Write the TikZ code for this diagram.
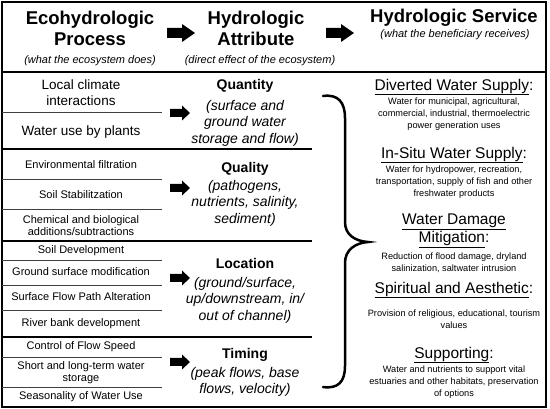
\documentclass[tikz,border=0pt]{standalone}
\usepackage{fontspec}
\setmainfont{Liberation Sans}
\begin{document}
\begin{tikzpicture}[x=1pt,y=-1pt]
\tikzset{
 hdr/.style={font=\fontsize{18.5}{21}\selectfont\bfseries, align=center, inner sep=0},
 hsub/.style={font=\fontsize{11}{13}\selectfont\itshape, inner sep=0},
 lbig/.style={font=\fontsize{13.5}{16}\selectfont, align=center, inner sep=0},
 lsmall/.style={font=\fontsize{11}{12}\selectfont, align=center, inner sep=0},
 attr/.style={font=\fontsize{14}{16}\selectfont\bfseries, inner sep=0},
 attrsub/.style={font=\fontsize{14}{16.5}\selectfont\itshape, align=center, inner sep=0},
 svc/.style={font=\fontsize{15.5}{18}\selectfont, align=center, inner sep=0},
 svcsub/.style={font=\fontsize{9.2}{11.8}\selectfont, align=center, inner sep=0},
 frameline/.style={line width=2.5pt},
 grpline/.style={line width=2pt},
 rowline/.style={line width=0.9pt, black!75},
 bigarrow/.pic={\fill (0,-5) -- (15,-5) -- (15,-9) -- (28,0) -- (15,9) -- (15,5) -- (0,5) -- cycle;},
 smallarrow/.pic={\fill (0,-4) -- (12,-4) -- (12,-7.5) -- (20,0) -- (12,7.5) -- (12,4) -- (0,4) -- cycle;}
}
\useasboundingbox (0,0) rectangle (550,409);
% frame
\draw[frameline] (2,2) rectangle (546,407);
\draw[frameline] (2,72) -- (546,72);
% header
\node[hdr] (h1) at (90,28.5) {Ecohydrologic\\Process};
\node[hsub] (s1) at (90,61) {(what the ecosystem does)};
\node[hdr] (h2) at (256,28.5) {Hydrologic\\Attribute};
\node[hsub] (s2) at (260,61) {(direct effect of the ecosystem)};
\node[hdr] (h3) at (454,18) {Hydrologic Service};
\node[hsub] (s3) at (455,35) {(what the beneficiary receives)};
\pic at (167,33) {bigarrow};
\pic at (326,33) {bigarrow};
% group lines
\draw[grpline] (2,149) -- (312,149);
\draw[grpline] (2,241) -- (312,241);
\draw[grpline] (2,337) -- (312,337);
% row lines
\foreach \yy in {112,179,209,260,285,310,357,387}
  \draw[rowline] (2,\yy) -- (162,\yy);
% left column
\node[lbig] (p1) at (81,93) {Local climate\\interactions};
\node[lbig] (p2) at (81,132) {Water use by plants};
\node[lsmall] (p3) at (81,165) {Environmental filtration};
\node[lsmall] (p4) at (81,195) {Soil Stabilitzation};
\node[lsmall] (p5) at (81,225.5) {Chemical and biological\\additions/subtractions};
\node[lsmall] (p6) at (81,251) {Soil Development};
\node[lsmall] (p7) at (81,272) {Ground surface modification};
\node[lsmall] (p8) at (81,297) {Surface Flow Path Alteration};
\node[lsmall] (p9) at (81,324) {River bank development};
\node[lsmall] (p10) at (81,347) {Control of Flow Speed};
\node[lsmall] (p11) at (81,372.5) {Short and long-term water\\storage};
\node[lsmall] (p12) at (81,397) {Seasonality of Water Use};
% small arrows
\pic at (170,113) {smallarrow};
\pic at (170,188) {smallarrow};
\pic at (170,278) {smallarrow};
\pic at (170,362) {smallarrow};
% middle column
\node[attr] (a1) at (245,86) {Quantity};
\node[attrsub] (a1s) at (245,123) {(surface and\\ground water\\storage and flow)};
\node[attr] (a2) at (245,169) {Quality};
\node[attrsub] (a2s) at (245,203) {(pathogens,\\nutrients, salinity,\\sediment)};
\node[attr] (a3) at (245,263) {Location};
\node[attrsub] (a3s) at (245,300) {(ground/surface,\\up/downstream, in/\\out of channel)};
\node[attr] (a4) at (245,355) {Timing};
\node[attrsub] (a4s) at (245,382) {(peak flows, base\\flows, velocity)};
% brace
\draw[line width=2.5pt, line cap=round] (323,96) .. controls (338,94) and (345,102) .. (345,118) -- (345,222)
  .. controls (345,235) and (355,241) .. (368,242)
  .. controls (355,243) and (345,250) .. (345,263) -- (345,366)
  .. controls (345,382) and (338,389) .. (323,387);
% right column
\node[svc] (t1) at (454,87) {\underline{Diverted Water Supply}:};
\node[svcsub] (d1) at (454,114) {Water for municipal, agricultural,\\commercial, industrial, thermoelectric\\power generation uses};
\node[svc] (t2) at (454,155) {\underline{In-Situ Water Supply}:};
\node[svcsub] (d2) at (454,182) {Water for hydropower, recreation,\\transportation, supply of fish and other\\freshwater products};
\node[svc] (t3) at (454,231) {\underline{Water Damage}\\\underline{Mitigation}:};
\node[svcsub] (d3) at (454,262.5) {Reduction of flood damage, dryland\\salinization, saltwater intrusion};
\node[svc] (t4) at (454,290) {\underline{Spiritual and Aesthetic}:};
\node[svcsub] (d4) at (454,319) {Provision of religious, educational, tourism\\values};
\node[svc] (t5) at (454,355) {\underline{Supporting}:};
\node[svcsub] (d5) at (454,382) {Water and nutrients to support vital\\estuaries and other habitats, preservation\\of options};
\end{tikzpicture}
\end{document}
